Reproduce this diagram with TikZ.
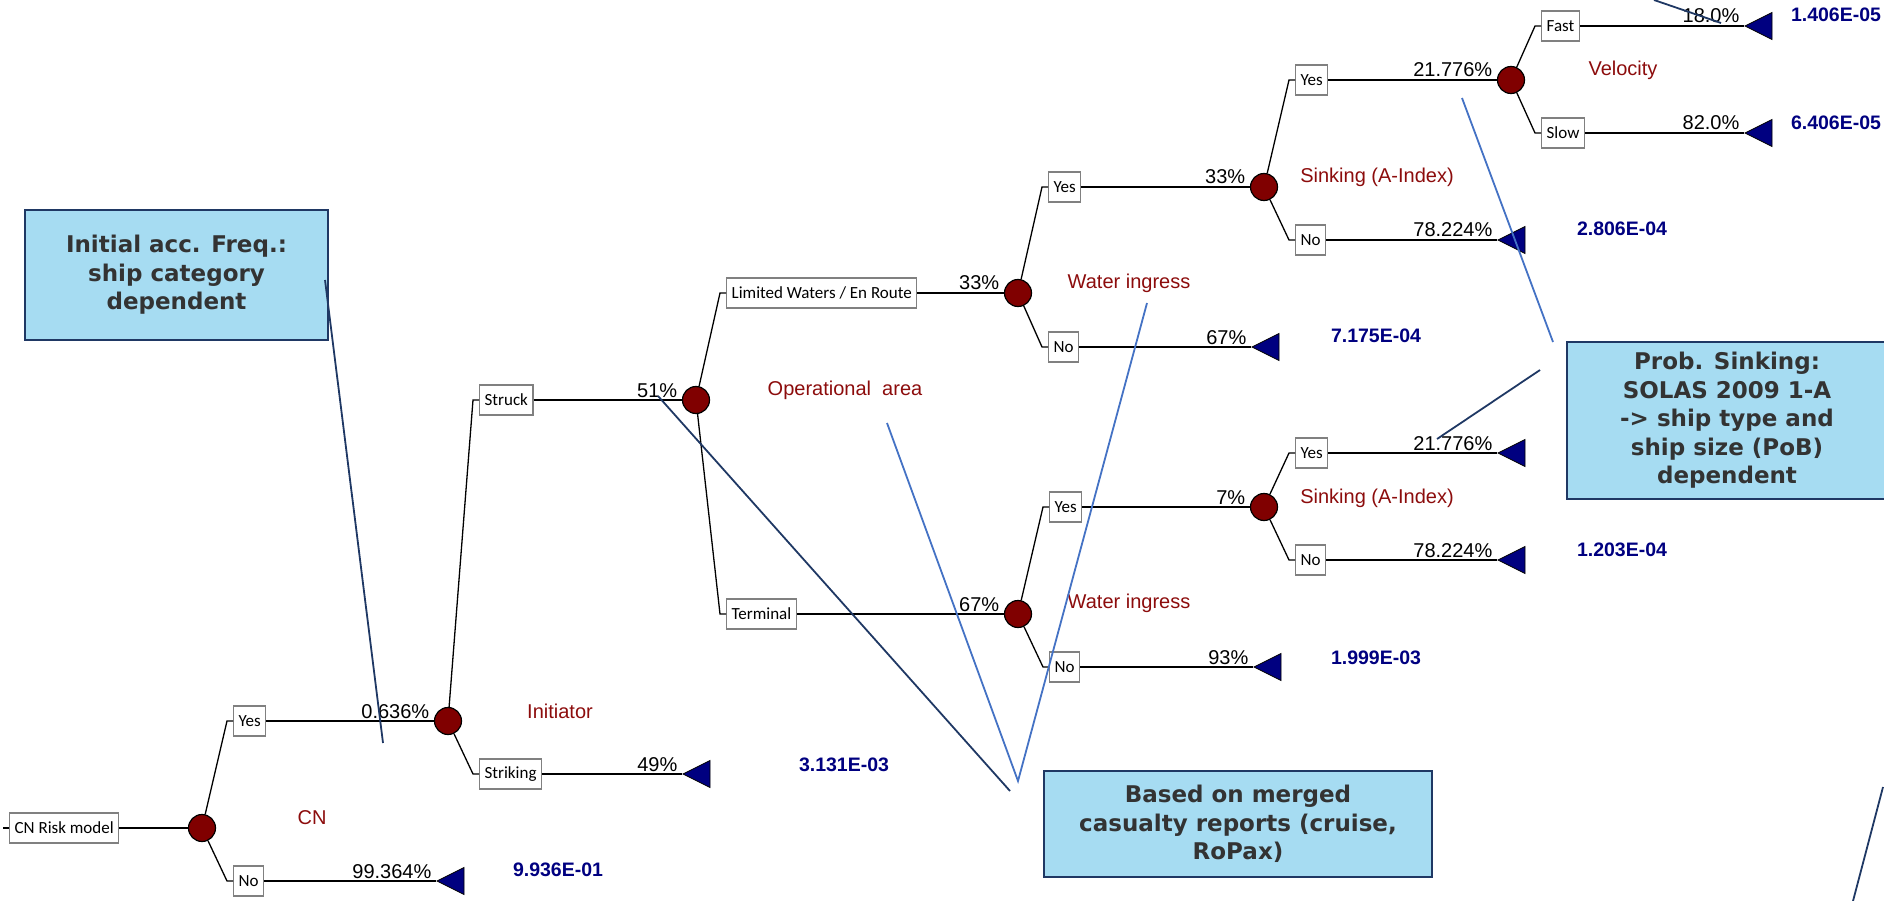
\documentclass[tikz,border=0pt]{standalone}
\usepackage{fontspec}
\setmainfont{Liberation Sans}
\newfontfamily\boxfont{Carlito}
\newfontfamily\callfont{DejaVu Sans}
\usetikzlibrary{shapes.geometric}

\definecolor{chred}{RGB}{128,0,0}
\definecolor{labred}{RGB}{140,12,12}
\definecolor{valblue}{RGB}{0,0,128}
\definecolor{trinavy}{RGB}{0,0,128}
\definecolor{boxgray}{RGB}{128,128,128}
\definecolor{cfill}{RGB}{166,220,242}
\definecolor{cborder}{RGB}{31,56,100}
\definecolor{ctext}{RGB}{51,51,51}
\definecolor{lightln}{RGB}{68,114,196}
\definecolor{darkln}{RGB}{31,56,100}

\begin{document}
\begin{tikzpicture}[x=1pt,y=-1pt,
 chance/.style={circle,draw=black,fill=chred,minimum size=27pt,inner sep=0pt,line width=1.2pt},
 tbox/.style={draw=boxgray,fill=white,line width=1.3pt,font=\boxfont\fontsize{17}{17}\selectfont,minimum height=30pt,inner xsep=5pt,inner ysep=0pt,anchor=west},
 term/.style={isosceles triangle,shape border rotate=180,isosceles triangle stretches,minimum width=27pt,minimum height=27pt,inner sep=0pt,fill=trinavy,draw=black,line width=0.8pt,anchor=apex},
 pct/.style={pos=1,anchor=base east,inner sep=0pt,xshift=-4pt,yshift=3pt,font=\fontsize{20}{20}\selectfont},
 lbl/.style={text=labred,font=\fontsize{20}{20}\selectfont,inner sep=0pt},
 val/.style={text=valblue,font=\bfseries\fontsize{19.5}{19.5}\selectfont,inner sep=0pt},
 callout/.style={draw=cborder,fill=cfill,line width=2pt,text=ctext,align=center,font=\callfont\bfseries\fontsize{23}{28.5}\selectfont,inner sep=0pt},
 tree/.style={line width=1.3pt},
 darkcall/.style={draw=darkln,line width=1.8pt},
 lightcall/.style={draw=lightln,line width=1.8pt}]

\useasboundingbox (0,0) rectangle (1884,901);

% callout boxes
\node[callout,minimum width=303pt,minimum height=130pt] (cA) at (176.5,275) {Initial acc. Freq.:\\ship category\\dependent};
\node[callout,minimum width=320pt,minimum height=157pt] (cB) at (1727,420.5) {Prob. Sinking:\\SOLAS 2009 1-A\\-> ship type and\\ship size (PoB)\\dependent};
\node[callout,minimum width=388pt,minimum height=106pt] (cC) at (1238,824) {Based on merged\\casualty reports (cruise,\\RoPax)};

% decision boxes
\coordinate (rootin) at (3,828);
\node[tbox] (root) at (9,828) {CN Risk model};
\node[tbox] (b1y) at (233,721) {Yes};
\node[tbox] (b1n) at (233,881) {No};
\node[tbox] (b2s) at (479,400) {Struck};
\node[tbox] (b2t) at (479,774) {Striking};
\node[tbox] (b3l) at (726,293) {Limited Waters / En Route};
\node[tbox] (b3t) at (726,614) {Terminal};
\node[tbox] (b4y) at (1048,187) {Yes};
\node[tbox] (b4n) at (1048,347) {No};
\node[tbox] (b5y) at (1049,507) {Yes};
\node[tbox] (b5n) at (1049,667) {No};
\node[tbox] (b8y) at (1295,80) {Yes};
\node[tbox] (b8n) at (1295,240) {No};
\node[tbox] (b6y) at (1295,453) {Yes};
\node[tbox] (b6n) at (1295,560) {No};
\node[tbox] (b7f) at (1541,26) {Fast};
\node[tbox] (b7s) at (1541,133) {Slow};

% chance nodes
\node[chance] (c1) at (202,828) {};
\node[chance] (c2) at (448,721) {};
\node[chance] (c3) at (696,400) {};
\node[chance] (c4) at (1018,293) {};
\node[chance] (c5) at (1018,614) {};
\node[chance] (c8) at (1264,187) {};
\node[chance] (c6) at (1264,507) {};
\node[chance] (c7) at (1511,80) {};

% terminal nodes
\node[term] (t1n) at (436,881) {};
\node[term] (t2t) at (682,774) {};
\node[term] (t4n) at (1251,347) {};
\node[term] (t5n) at (1253,667) {};
\node[term] (t8n) at (1497,240) {};
\node[term] (t6y) at (1497,453) {};
\node[term] (t6n) at (1497,560) {};
\node[term] (t7f) at (1744,26) {};
\node[term] (t7s) at (1744,133) {};

% tree edges
\draw[tree] (rootin) -- (root.west);
\draw[tree] (root.east) -- (c1);
\foreach \c/\b in {c1/b1y,c1/b1n,c2/b2s,c2/b2t,c3/b3l,c3/b3t,c4/b4y,c4/b4n,c5/b5y,c5/b5n,c8/b8y,c8/b8n,c6/b6y,c6/b6n,c7/b7f,c7/b7s}
  \draw[tree] (\c) -- ([xshift=-6pt]\b.west) -- (\b.west);
\draw[tree] (b1y.east) -- node[pct]{0.636\%} (c2);
\draw[tree] (b1n.east) -- node[pct]{99.364\%} (t1n.apex);
\draw[tree] (b2s.east) -- node[pct]{51\%} (c3);
\draw[tree] (b2t.east) -- node[pct]{49\%} (t2t.apex);
\draw[tree] (b3l.east) -- node[pct]{33\%} (c4);
\draw[tree] (b3t.east) -- node[pct]{67\%} (c5);
\draw[tree] (b4y.east) -- node[pct]{33\%} (c8);
\draw[tree] (b4n.east) -- node[pct]{67\%} (t4n.apex);
\draw[tree] (b5y.east) -- node[pct]{7\%} (c6);
\draw[tree] (b5n.east) -- node[pct]{93\%} (t5n.apex);
\draw[tree] (b8y.east) -- node[pct]{21.776\%} (c7);
\draw[tree] (b8n.east) -- node[pct]{78.224\%} (t8n.apex);
\draw[tree] (b6y.east) -- node[pct]{21.776\%} (t6y.apex);
\draw[tree] (b6n.east) -- node[pct]{78.224\%} (t6n.apex);
\draw[tree] (b7f.east) -- node[pct]{18.0\%} (t7f.apex);
\draw[tree] (b7s.east) -- node[pct]{82.0\%} (t7s.apex);

% red labels
\node[lbl] (lCN) at (312,818) {CN};
\node[lbl] (lInit) at (560,711) {Initiator};
\node[lbl] (lOp) at (845,390) {Operational\ \ area};
\node[lbl] (lW1) at (1129,283) {Water ingress};
\node[lbl] (lW2) at (1129,603) {Water ingress};
\node[lbl] (lS1) at (1377,177) {Sinking (A-Index)};
\node[lbl] (lS2) at (1377,498) {Sinking (A-Index)};
\node[lbl] (lV) at (1623,70) {Velocity};

% values
\node[val] (v1) at (558,870) {9.936E-01};
\node[val] (v2) at (844,765) {3.131E-03};
\node[val] (v3) at (1376,336) {7.175E-04};
\node[val] (v4) at (1376,658) {1.999E-03};
\node[val] (v5) at (1622,229) {2.806E-04};
\node[val] (v6) at (1622,550) {1.203E-04};
\node[val] (v7) at (1836,15) {1.406E-05};
\node[val] (v8) at (1836,123) {6.406E-05};

% callout lines
\coordinate (aA1) at (325,280);
\coordinate (aA2) at (383,743);
\coordinate (aB1) at (1540,370);
\coordinate (aB2) at (1437,439);
\coordinate (aB3) at (1462,98);
\coordinate (aB4) at (1553,342);
\coordinate (aC0) at (1018,781);
\coordinate (aC1) at (1010,791);
\coordinate (aC2) at (658,396);
\coordinate (aC3) at (887,423);
\coordinate (aC4) at (1147,303);
\coordinate (aT1) at (1654,0);
\coordinate (aT2) at (1721,23);
\coordinate (aR1) at (1883,787);
\coordinate (aR2) at (1853,901);
\draw[darkcall] (aA1) -- (aA2);
\draw[darkcall] (aB1) -- (aB2);
\draw[lightcall] (aB3) -- (aB4);
\draw[darkcall] (aC1) -- (aC2);
\draw[lightcall] (aC3) -- (aC0) -- (aC4);
\draw[darkcall] (aT1) -- (aT2);
\draw[darkcall] (aR1) -- (aR2);
\end{tikzpicture}
\end{document}
